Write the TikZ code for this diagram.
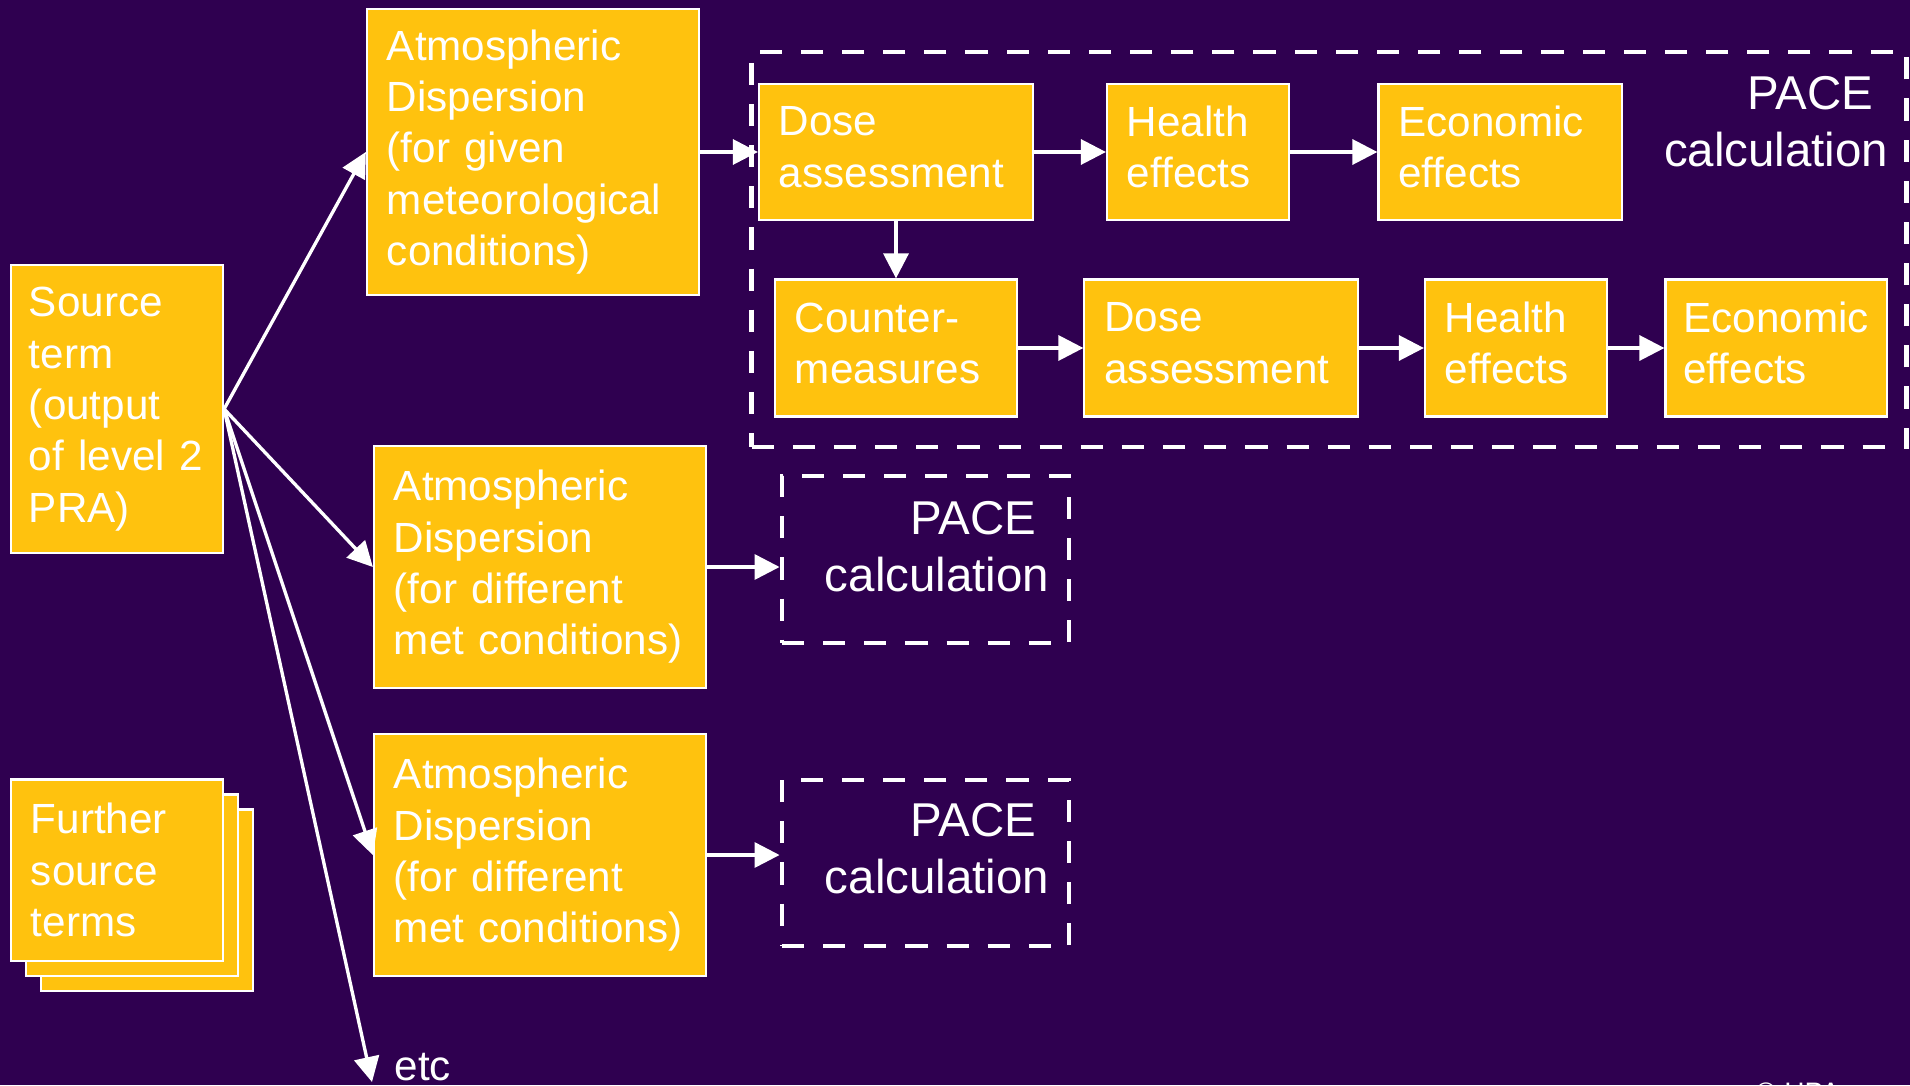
\documentclass[tikz,border=0pt]{standalone}
\usepackage{fontspec}
\setmainfont{Liberation Sans}
\usetikzlibrary{arrows.meta}
\definecolor{hpapurple}{HTML}{2F0050}
\definecolor{hpayellow}{HTML}{FFC20E}
\newcommand{\dstrut}{\rule[-0.1cm]{0pt}{0.1cm}}

\begin{document}
\begin{tikzpicture}[x=0.01cm,y=-0.01cm,
  box/.style={fill=hpayellow,draw=white,line width=0.6pt,text=white,align=left,inner xsep=0.2cm,inner ysep=0pt,font=\fontsize{12}{14.6}\selectfont},
  pacebox/.style={draw=white,line width=1.35pt,dash pattern=on 6.3pt off 5.4pt},
  pacetext/.style={text=white,align=right,inner sep=0pt,font=\fontsize{13.5}{16.2}\selectfont},
  arr/.style={draw=white,line width=0.95pt,-{Triangle[length=0.25cm,width=0.25cm]}}]

    \useasboundingbox (0,0) rectangle (1910,1085);
    \fill[hpapurple] (0,0) rectangle (1910,1085);

    \node[box,text width=1.76cm,inner xsep=0.18cm,minimum height=2.88cm] (src) at (117,409) {Source\\term\\(output\\of~level~2\\PRA)};
    \node[box,text width=1.72cm,minimum height=1.81cm] (further3) at (147,900) {};
    \node[box,text width=1.72cm,minimum height=1.81cm] (further2) at (132,885) {};
    \node[box,text width=1.72cm,minimum height=1.81cm] (further1) at (117,870) {Further\\source\\terms};

    \node[box,text width=2.92cm,minimum height=2.86cm] (disp1) at (533,152) {Atmospheric\\Dispersion\\(for given\\meteorological\\conditions)};
    \node[box,text width=2.92cm,minimum height=2.41cm] (disp2) at (540,567) {Atmospheric\\Dispersion\\(for different\\met conditions)};
    \node[box,text width=2.92cm,minimum height=2.42cm] (disp3) at (540,855) {Atmospheric\\Dispersion\\(for different\\met conditions)};

    \node[pacebox,minimum width=11.54cm,minimum height=3.95cm] (pacemain) at (1329,249.5) {};
    \node[pacetext,anchor=east] (pacemainlbl) at (1889,122) {PACE\hspace*{0.15cm}\\calculation};
    \node[pacebox,minimum width=2.87cm,minimum height=1.67cm] (paceA) at (925.5,559.5) {};
    \node[pacetext,anchor=east] (paceAlbl) at (1050,547) {PACE\hspace*{0.13cm}\\calculation};
    \node[pacebox,minimum width=2.87cm,minimum height=1.66cm] (paceB) at (925.5,863) {};
    \node[pacetext,anchor=east] (paceBlbl) at (1050,849) {PACE\hspace*{0.13cm}\\calculation};

    \node[box,text width=2.34cm,minimum height=1.36cm] (dose1) at (896,152) {Dose\\assessment\dstrut};
    \node[box,text width=1.42cm,minimum height=1.36cm] (health1) at (1198,152) {Health\\effects\dstrut};
    \node[box,text width=2.03cm,minimum height=1.36cm] (econ1) at (1500,152) {Economic\\effects\dstrut};
    \node[box,text width=2.02cm,minimum height=1.37cm] (counter) at (896,348) {Counter-\\measures\dstrut};
    \node[box,text width=2.33cm,minimum height=1.37cm] (dose2) at (1221,348) {Dose\\assessment\dstrut};
    \node[box,text width=1.42cm,minimum height=1.37cm] (health2) at (1516,348) {Health\\effects\dstrut};
    \node[box,text width=1.85cm,inner xsep=0.18cm,minimum height=1.37cm] (econ2) at (1776,348) {Economic\\effects\dstrut};

    \node[anchor=base west,inner sep=0pt,text=white,font=\fontsize{12}{14.6}\selectfont] (etc) at (394,1080) {etc};
    \coordinate (etcend) at (372,1082);
    \node[anchor=north west,inner sep=0pt,text=white,font=\fontsize{8}{10}\selectfont] (credit) at (1755,1082) {© HPA};

    \draw[arr] (src.east) -- (disp1.west);
    \draw[arr] (src.east) -- (disp2.west);
    \draw[arr] (src.east) -- (disp3.west);
    \draw[arr] (src.east) -- (etcend);
    \draw[arr] (disp1.east) -- (dose1.west);
    \draw[arr] (dose1) -- (health1);
    \draw[arr] (health1) -- (econ1);
    \draw[arr] (dose1) -- (counter);
    \draw[arr] (counter) -- (dose2);
    \draw[arr] (dose2) -- (health2);
    \draw[arr] (health2) -- (econ2);
    \draw[arr] (disp2.east) -- (disp2.east -| paceA.west);
    \draw[arr] (disp3.east) -- (disp3.east -| paceB.west);

\end{tikzpicture}
\end{document}
